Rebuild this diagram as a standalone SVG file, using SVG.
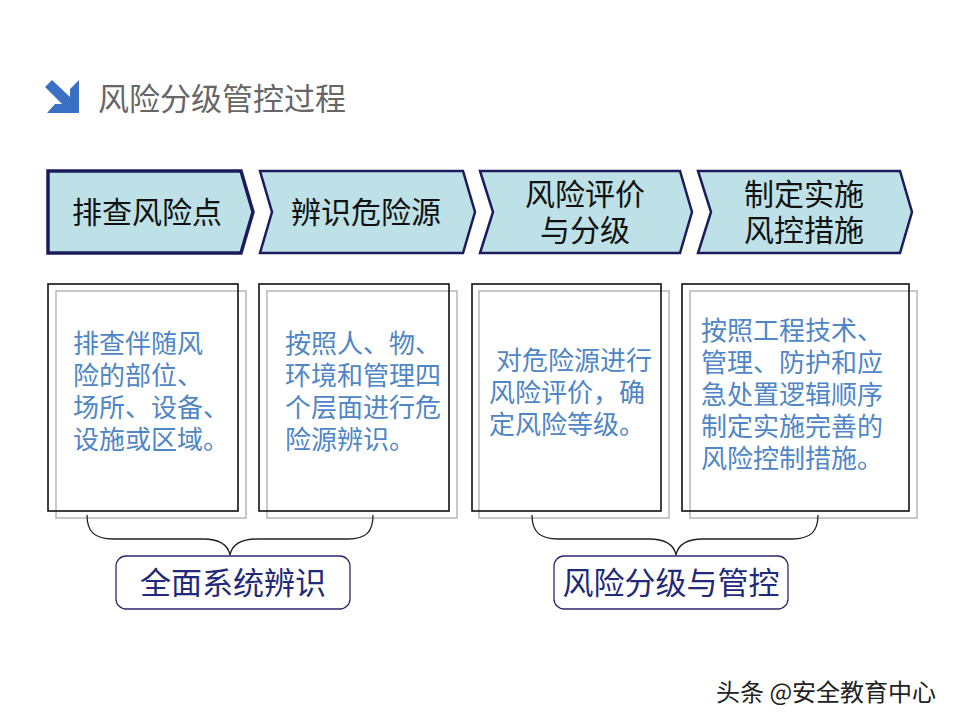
<svg xmlns="http://www.w3.org/2000/svg" width="960" height="720" viewBox="0 0 960 720">
<style>
text{font-family:"Noto Sans CJK SC","Noto Sans",sans-serif}
.chev{fill:#BDE1E6;stroke:#1C1C5C;stroke-width:2.5;stroke-linejoin:miter}
.ct{font-size:30px;fill:#111;text-anchor:middle}
.bk{fill:none;stroke:#111;stroke-width:1.6}
.gr{fill:none;stroke:#BBBBBB;stroke-width:1.6}
.bt{font-size:26px;fill:#4F86C6}
.brace{fill:none;stroke:#222;stroke-width:1.3}
.lb{fill:#fff;stroke:#2A2A6A;stroke-width:1.3}
.lt{font-size:31px;fill:#1F2A7A;text-anchor:middle}
</style>
<rect width="960" height="720" fill="#fff"/>
<g id="title">
<polygon points="79,113 47,113 55,104 62,104 45,87 52,80 70,97 70,89 79,80" fill="#3B6FC4"/>
<text x="98" y="110" font-size="31" fill="#666">风险分级管控过程</text>
</g>
<g id="step1">
<polygon class="chev" style="stroke-width:3.5" points="48,171 241,171 253,212 241,253 48,253"/>
<text class="ct" x="147" y="223">排查风险点</text>
</g>
<g id="step2">
<polygon class="chev" points="260,171 463,171 475,212 463,253 260,253 272,212"/>
<text class="ct" x="366" y="223">辨识危险源</text>
</g>
<g id="step3">
<polygon class="chev" points="480,171 680,171 692,212 680,253 480,253 493,212"/>
<text class="ct"><tspan x="585" y="205">风险评价</tspan><tspan x="585" y="241">与分级</tspan></text>
</g>
<g id="step4">
<polygon class="chev" points="698,171 900,171 912,212 900,253 698,253 711,212"/>
<text class="ct"><tspan x="804" y="205">制定实施</tspan><tspan x="804" y="241">风控措施</tspan></text>
</g>
<g id="box1">
<rect class="gr" x="56" y="291" width="190" height="227"/>
<rect class="bk" x="48" y="284" width="190" height="227"/>
<text class="bt"><tspan x="73" y="353">排查伴随风</tspan><tspan x="73" y="385">险的部位、</tspan><tspan x="73" y="417">场所、设备、</tspan><tspan x="73" y="449">设施或区域。</tspan></text>
</g>
<g id="box2">
<rect class="gr" x="267" y="291" width="190" height="227"/>
<rect class="bk" x="259" y="284" width="190" height="227"/>
<text class="bt"><tspan x="285" y="353">按照人、物、</tspan><tspan x="285" y="385">环境和管理四</tspan><tspan x="285" y="417">个层面进行危</tspan><tspan x="285" y="449">险源辨识。</tspan></text>
</g>
<g id="box3">
<rect class="gr" x="479" y="291" width="190" height="227"/>
<rect class="bk" x="472" y="284" width="189" height="227"/>
<text class="bt"><tspan x="496" y="370">对危险源进行</tspan><tspan x="489" y="402">风险评价，确</tspan><tspan x="489" y="434">定风险等级。</tspan></text>
</g>
<g id="box4">
<rect class="gr" x="690" y="291" width="227" height="227"/>
<rect class="bk" x="682" y="284" width="227" height="227"/>
<text class="bt"><tspan x="701" y="340">按照工程技术、</tspan><tspan x="701" y="372">管理、防护和应</tspan><tspan x="701" y="404">急处置逻辑顺序</tspan><tspan x="701" y="436">制定实施完善的</tspan><tspan x="701" y="468">风险控制措施。</tspan></text>
</g>
<g id="connectors">
<path class="brace" d="M87,515 C87,532 95,539 113,539 L203,539 C220,539 228,545 230,555 C232,545 240,539 257,539 L348,539 C366,539 373,532 373,515"/>
<path class="brace" d="M532,515 C532,532 540,539 558,539 L649,539 C666,539 674,545 676,555 C678,545 686,539 703,539 L792,539 C810,539 818,532 818,515"/>
</g>
<g id="label1">
<rect class="lb" x="116" y="556" width="234" height="53" rx="10"/>
<text class="lt" x="233" y="594">全面系统辨识</text>
</g>
<g id="label2">
<rect class="lb" x="554" y="556" width="234" height="53" rx="10"/>
<text class="lt" x="671" y="594">风险分级与管控</text>
</g>
<g id="watermark">
<text x="716" y="701" font-size="24" fill="#222" stroke="#fff" stroke-width="0.6" paint-order="stroke">头条 @安全教育中心</text>
</g>
</svg>
